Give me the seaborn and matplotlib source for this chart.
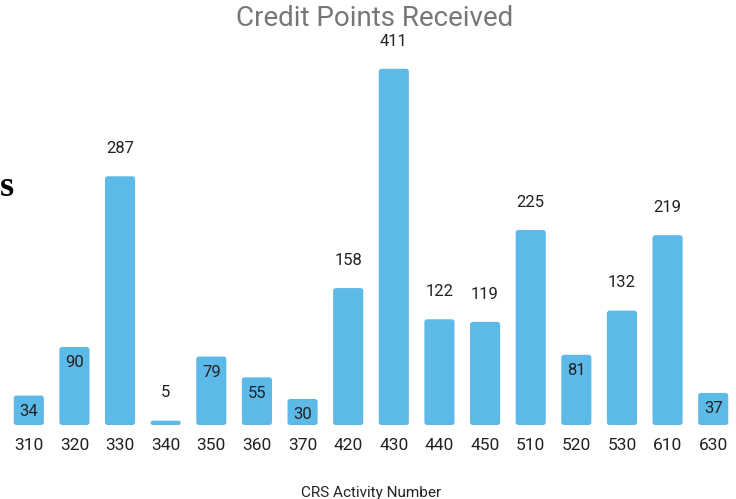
import matplotlib
matplotlib.use("Agg")
import matplotlib.pyplot as plt
from matplotlib.patches import FancyBboxPatch
import seaborn as sns
import pandas as pd

activities = ["310", "320", "330", "340", "350", "360", "370", "420",
              "430", "440", "450", "510", "520", "530", "610", "630"]
points = [34, 90, 287, 5, 79, 55, 30, 158, 411, 122, 119, 225, 81, 132, 219, 37]

df = pd.DataFrame({"Activity": activities, "Points": points})

sns.set_style("white")
plt.rcParams['font.family'] = ['Roboto', 'DejaVu Sans']

fig = plt.figure(figsize=(7.36, 4.99), dpi=100)
ax = fig.add_axes([6 / 736, 74 / 499, 730 / 736, 390 / 499])

sns.barplot(data=df, x="Activity", y="Points", order=activities,
            color="#5DB9E8", saturation=1, width=0.66, ax=ax)

ax.set_xlim(-0.5, len(activities) - 0.5)
ax.set_ylim(0, 450)

# swap the square bars for slightly rounded ones
aspect = (730 / 16) / (390 / 450)
for p in list(ax.patches):
    x, y, w, h = p.get_x(), p.get_y(), p.get_width(), p.get_height()
    rs = min(0.06, h / aspect / 2)
    ax.add_patch(FancyBboxPatch((x, y), w, h, boxstyle=f"round,pad=0,rounding_size={rs}",
                                mutation_aspect=aspect, fc=p.get_facecolor(), ec="none"))
    p.remove()

sns.despine(ax=ax, left=True, bottom=True)
ax.set_yticks([])
ax.set_ylabel("")
ax.tick_params(axis="x", length=0, pad=9, labelsize=12.5, labelcolor="#222222")
ax.set_xlabel("CRS Activity Number", fontsize=11, color="#222222", labelpad=24)

# labels sit inside the bar when it is tall enough, otherwise above
for i, v in enumerate(points):
    if 20 < v < 100:
        ax.annotate(str(v), (i, v), xytext=(0, -11.5), textcoords="offset points",
                    ha="center", va="center", fontsize=12, color="#222222")
    else:
        ax.annotate(str(v), (i, v), xytext=(0, 20), textcoords="offset points",
                    ha="center", va="center", fontsize=12, color="#222222")

fig.text(375 / 736, 1 - 19 / 499, "Credit Points Received", ha="center", va="center",
         fontsize=20, color="#777777")

# letter left over from the slide at the left edge
fig.text(0.0, 1 - 187 / 499, "s", ha="left", va="center", fontsize=26,
         family="Liberation Serif", weight="bold", color="black")

fig.savefig("out.png", dpi=100)
